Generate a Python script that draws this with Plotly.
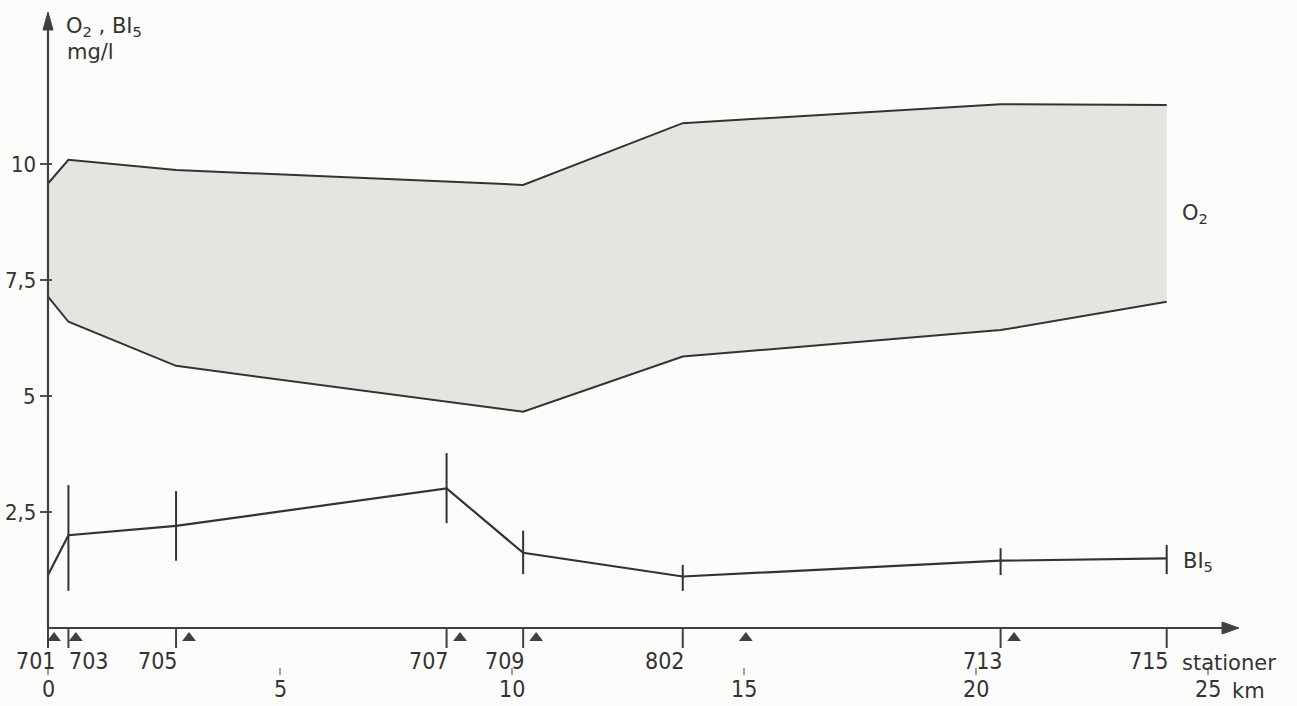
import plotly.graph_objects as go

# ---------------- data ----------------
stations = ["701", "703", "705", "707", "709", "802", "713", "715"]
station_km = [0.0, 0.44, 2.76, 8.59, 10.24, 13.68, 20.53, 24.11]

o2_max = [9.58, 10.09, 9.87, 9.61, 9.55, 10.88, 11.29, 11.27]
o2_min = [7.14, 6.60, 5.65, 4.88, 4.66, 5.85, 6.42, 7.03]

bi5_mean = [1.14, 2.00, 2.20, 3.01, 1.62, 1.11, 1.45, 1.50]
bi5_high = [1.14, 3.08, 2.95, 3.77, 2.10, 1.36, 1.72, 1.79]
bi5_low = [1.14, 0.80, 1.45, 2.26, 1.16, 0.80, 1.14, 1.16]

triangle_km = [0.13, 0.60, 3.04, 8.88, 10.52, 15.04, 20.82]

km_ticks = [0, 5, 10, 15, 20, 25]
km_labels = ["0", "5", "10", "15", "20", "25"]
y_ticks = [2.5, 5, 7.5, 10]
y_labels = ["2,5", "5", "7,5", "10"]

# ---------------- style / geometry ----------------
W, H = 1297, 706
PX = 46.4          # pixels per unit (both axes)
X0, Y0 = 48, 628   # pixel position of origin
def px_x(p):  # horizontal pixel distance -> km
    return p / PX
def px_y(p):
    return p / PX

INK = "#333333"
AX = "#404040"
FILL = "#e5e5e0"
NUM_FONT = "DejaVu Sans Condensed, Liberation Sans Narrow, DejaVu Sans, sans-serif"
TXT_FONT = "DejaVu Sans, Liberation Sans, sans-serif"

fig = go.Figure()

# O2 band fill
fig.add_trace(go.Scatter(
    x=station_km + station_km[::-1],
    y=o2_max + o2_min[::-1],
    fill="toself", fillcolor=FILL, mode="none",
    hoverinfo="skip", showlegend=False))
# band outlines (top and bottom only)
fig.add_trace(go.Scatter(x=station_km, y=o2_max, mode="lines",
                         line=dict(color=INK, width=2), showlegend=False))
fig.add_trace(go.Scatter(x=station_km, y=o2_min, mode="lines",
                         line=dict(color=INK, width=2), showlegend=False))

# BI5 line with asymmetric vertical bars
plus = [h - m for h, m in zip(bi5_high, bi5_mean)]
minus = [m - l for m, l in zip(bi5_mean, bi5_low)]
fig.add_trace(go.Scatter(
    x=station_km, y=bi5_mean, mode="lines",
    line=dict(color=INK, width=2.2),
    error_y=dict(type="data", symmetric=False, array=plus, arrayminus=minus,
                 color=INK, thickness=2, width=0),
    showlegend=False))

# triangles below axis
fig.add_trace(go.Scatter(
    x=triangle_km, y=[-px_y(10)] * len(triangle_km), mode="markers",
    marker=dict(symbol="triangle-up", size=12, color=AX, line=dict(width=0)),
    showlegend=False))

shapes = []
# y axis line
y_top_base = px_y(Y0 - 30)
shapes.append(dict(type="line", xref="x", yref="y", x0=0, x1=0, y0=0, y1=y_top_base,
                   line=dict(color=AX, width=2.2)))
# y arrow head
hw = px_x(5)
tip = px_y(Y0 - 12)
shapes.append(dict(type="path", xref="x", yref="y",
                   path=f"M {-hw} {y_top_base} L 0 {tip} L {hw} {y_top_base} Z",
                   fillcolor=AX, line=dict(color=AX, width=1)))
# x axis line
x_base = px_x(1222 - X0)
shapes.append(dict(type="line", xref="x", yref="y", x0=0, x1=x_base, y0=0, y1=0,
                   line=dict(color=AX, width=2.2)))
hh = px_y(6)
x_tip = px_x(1239 - X0)
shapes.append(dict(type="path", xref="x", yref="y",
                   path=f"M {x_base} {-hh} L {x_tip} 0 L {x_base} {hh} Z",
                   fillcolor=AX, line=dict(color=AX, width=1)))
# y ticks
for v in y_ticks:
    shapes.append(dict(type="line", xref="x", yref="y", x0=-px_x(8), x1=px_x(4),
                       y0=v, y1=v, line=dict(color=AX, width=1.8)))
# station ticks below axis
for k in station_km:
    shapes.append(dict(type="line", xref="x", yref="y", x0=k, x1=k, y0=0,
                       y1=-px_y(20), line=dict(color=AX, width=2)))
# km ticks (small marks above km numbers)
for k in km_ticks:
    shapes.append(dict(type="line", xref="x", yref="y", x0=k, x1=k,
                       y0=-px_y(40), y1=-px_y(47), line=dict(color=AX, width=1)))

annotations = []
for v, t in zip(y_ticks, y_labels):
    annotations.append(dict(x=-px_x(10), y=v, xref="x", yref="y", text=t,
                            showarrow=False, xanchor="right", yanchor="middle",
                            font=dict(family=NUM_FONT, size=22, color=INK)))
# station labels
for k, s in zip(station_km, stations):
    if s == "703":
        ax, xa = k - px_x(1), "left"
    elif s == "701":
        ax, xa = k + px_x(10), "right"
    else:
        ax, xa = k + px_x(4), "right"
    annotations.append(dict(x=ax, y=-px_y(33), xref="x", yref="y", text=s,
                            showarrow=False, xanchor=xa, yanchor="middle",
                            font=dict(family=NUM_FONT, size=23, color=INK)))
# km labels
for k, t in zip(km_ticks, km_labels):
    annotations.append(dict(x=k, y=-px_y(61), xref="x", yref="y", text=t,
                            showarrow=False, xanchor="center", yanchor="middle",
                            font=dict(family=NUM_FONT, size=23, color=INK)))
annotations.append(dict(x=px_x(1230 - X0), y=-px_y(63), xref="x", yref="y", text="km",
                        showarrow=False, xanchor="left", yanchor="middle",
                        font=dict(family=TXT_FONT, size=21, color=INK)))
annotations.append(dict(x=px_x(1180 - X0), y=-px_y(35), xref="x", yref="y",
                        text="stationer", showarrow=False, xanchor="left",
                        yanchor="middle", font=dict(family=TXT_FONT, size=21, color=INK)))
# series labels
annotations.append(dict(x=px_x(1180 - X0), y=px_y(Y0 - 214), xref="x", yref="y",
                        text="O<sub>2</sub>", showarrow=False, xanchor="left",
                        yanchor="middle", font=dict(family=TXT_FONT, size=21, color=INK)))
annotations.append(dict(x=px_x(1181 - X0), y=px_y(Y0 - 562), xref="x", yref="y",
                        text="BI<sub>5</sub>", showarrow=False, xanchor="left",
                        yanchor="middle", font=dict(family=TXT_FONT, size=21, color=INK)))
# axis title
annotations.append(dict(x=px_x(64 - X0), y=px_y(Y0 - 27), xref="x", yref="y",
                        text="O<sub>2</sub> , BI<sub>5</sub>", showarrow=False,
                        xanchor="left", yanchor="middle",
                        font=dict(family=TXT_FONT, size=21, color=INK)))
annotations.append(dict(x=px_x(65 - X0), y=px_y(Y0 - 52), xref="x", yref="y",
                        text="mg/l", showarrow=False, xanchor="left", yanchor="middle",
                        font=dict(family=TXT_FONT, size=21, color=INK)))

fig.update_layout(
    width=W, height=H,
    margin=dict(l=0, r=0, t=0, b=0),
    paper_bgcolor="#fcfcfa", plot_bgcolor="#fcfcfa",
    xaxis=dict(range=[-X0 / PX, (W - X0) / PX], visible=False, fixedrange=True),
    yaxis=dict(range=[-(H - Y0) / PX, Y0 / PX], visible=False, fixedrange=True),
    shapes=shapes, annotations=annotations, showlegend=False,
)

fig.write_html("out.html")
